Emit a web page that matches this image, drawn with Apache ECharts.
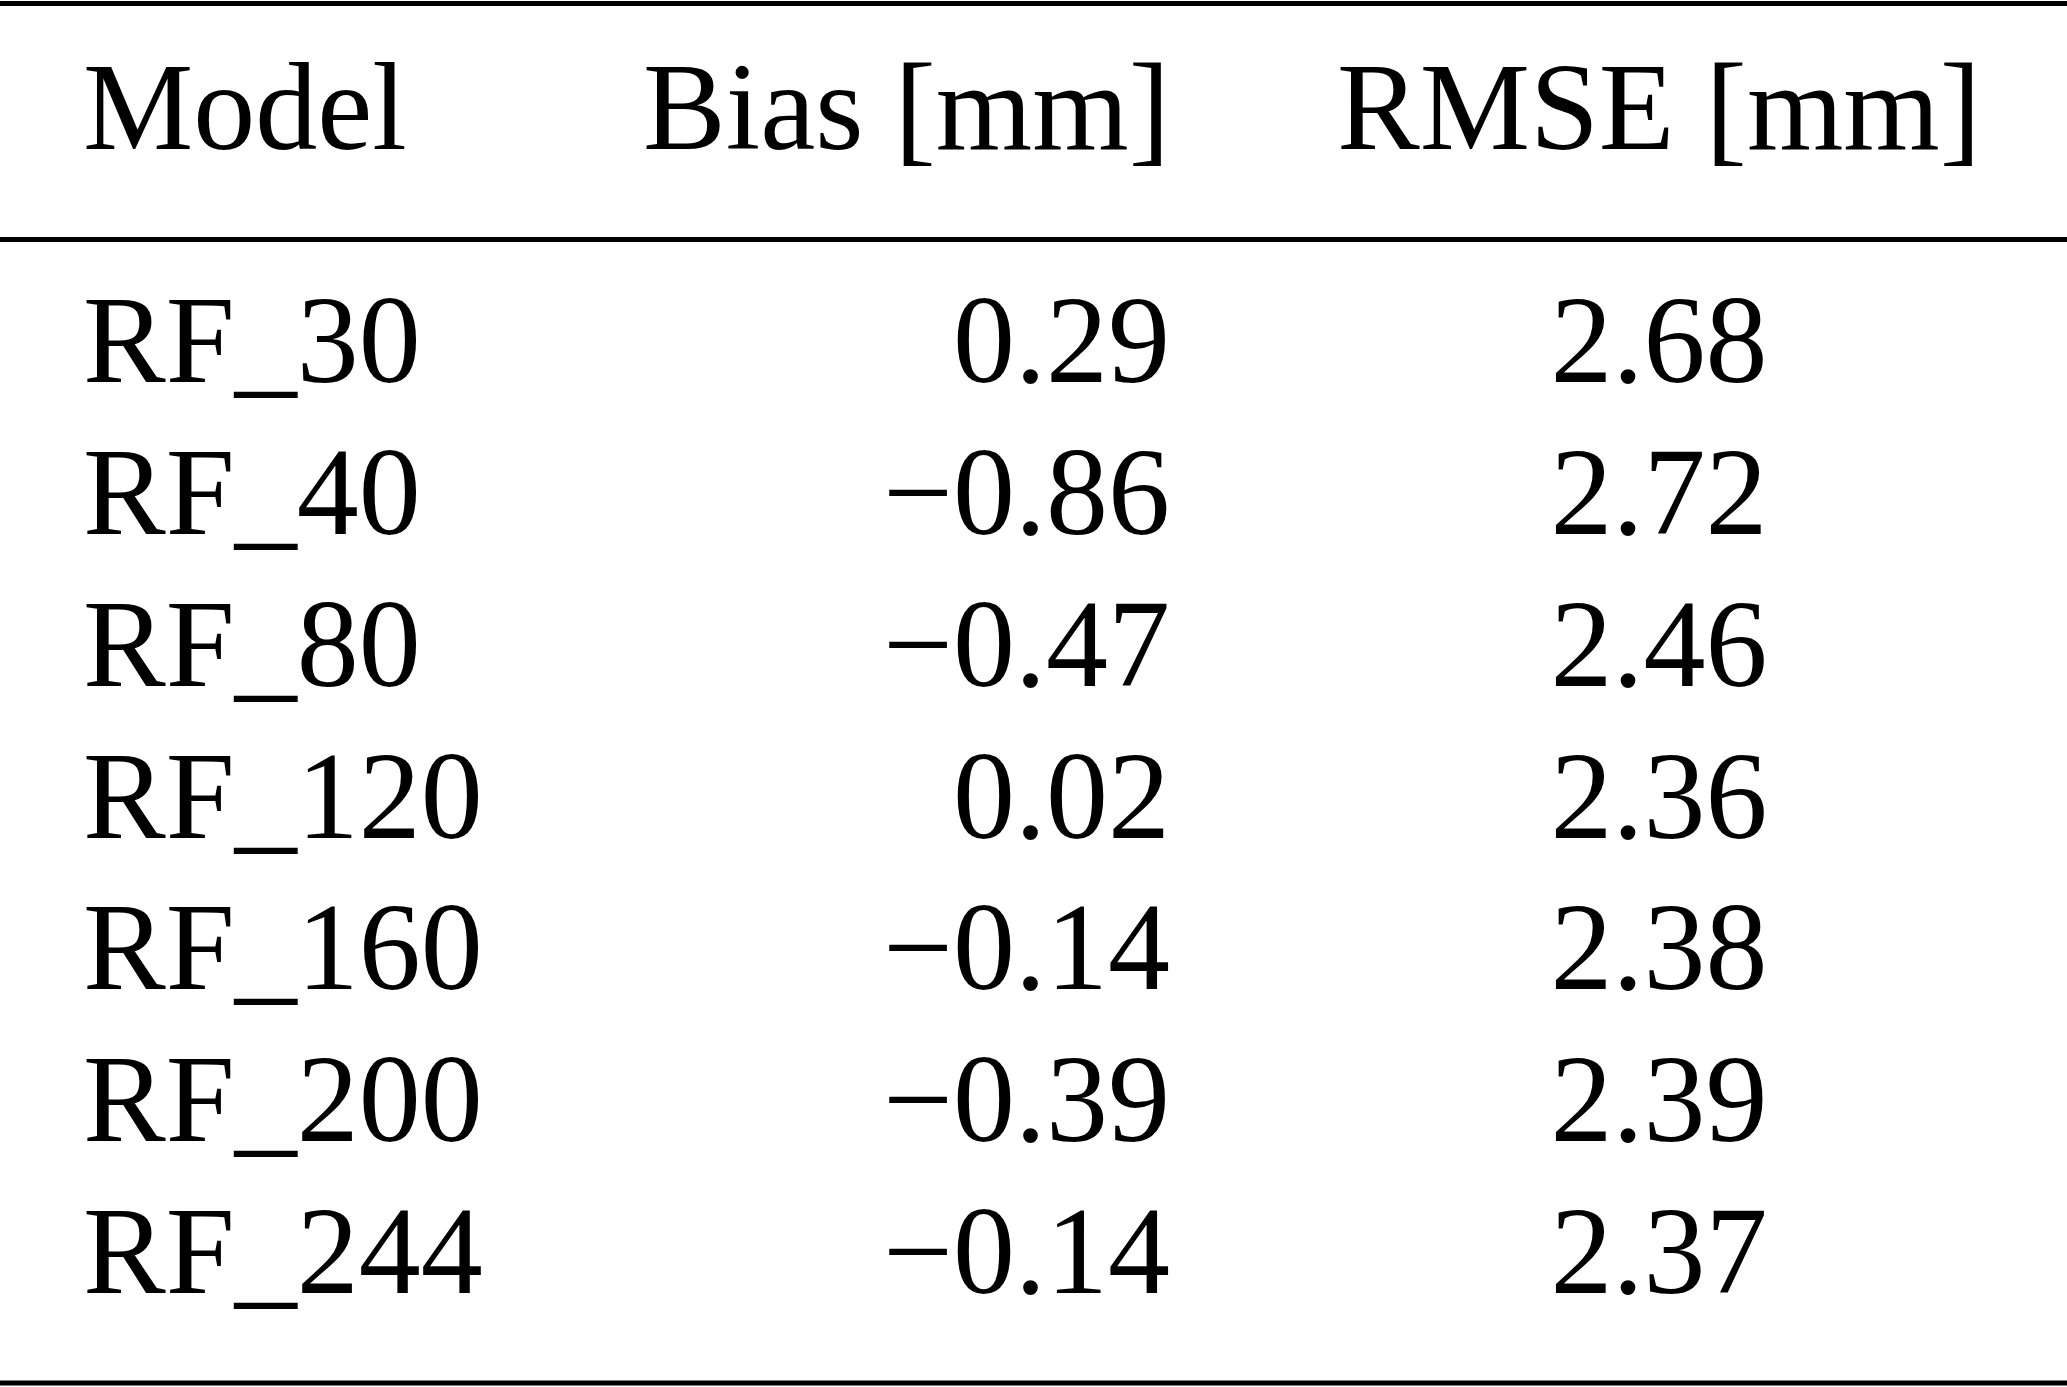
<!DOCTYPE html>
<html>
<head>
<meta charset="utf-8">
<script src="https://cdn.jsdelivr.net/npm/echarts@6/dist/echarts.min.js"></script>
<style>
html,body{margin:0;padding:0;background:#fff}
#main{width:2067px;height:1387px}
</style>
</head>
<body>
<div id="main"></div>
<script>
// table content
var headers = ['Model', 'Bias [mm]', 'RMSE [mm]'];
var models = ['RF_30', 'RF_40', 'RF_80', 'RF_120', 'RF_160', 'RF_200', 'RF_244'];
var bias = [0.29, -0.86, -0.47, 0.02, -0.14, -0.39, -0.14];
var rmse = [2.68, 2.72, 2.46, 2.36, 2.38, 2.39, 2.37];

// column anchors (x in px) and alignment
var colX = [83, 1170, 1659];
var colAlign = ['left', 'right', 'center'];
var FONT = '124px "Liberation Serif", "Times New Roman", serif';

function fmt(v) {
	return v.toFixed(2).replace('-', '\u2212');
}

var headerText = headers.slice();
var headerData = headers.map(function (h, i) { return [colX[i], 0, i]; });

var bodyText = [];
var bodyData = [];
models.forEach(function (m, r) {
	bodyText.push(m);           bodyData.push([colX[0], r, 0]);
	bodyText.push(fmt(bias[r])); bodyData.push([colX[1], r, 1]);
	bodyText.push(fmt(rmse[r])); bodyData.push([colX[2], r, 2]);
});

function makeRender(texts) {
	return function (params, api) {
		var p = api.coord([api.value(0), api.value(1)]);
		var c = api.value(2);
		return {
			type: 'text',
			x: p[0],
			y: p[1],
			style: {
				text: texts[params.dataIndex],
				font: FONT,
				fill: '#000',
				align: colAlign[c],
				verticalAlign: 'middle'
			}
		};
	};
}

var myChart = echarts.init(document.getElementById('main'));
var option = {
	backgroundColor: '#fff',
	animation: false,
	grid: [
		{left: 0, right: 0, top: 4, height: 224},
		{left: 0, right: 0, top: 274, bottom: 51}
	],
	xAxis: [
		{type: 'value', gridIndex: 0, min: 0, max: 2067, show: false},
		{type: 'value', gridIndex: 1, min: 0, max: 2067, show: false}
	],
	yAxis: [
		{type: 'category', gridIndex: 0, data: ['header'], show: false},
		{type: 'category', gridIndex: 1, data: models, inverse: true, show: false}
	],
	series: [
		{type: 'custom', xAxisIndex: 0, yAxisIndex: 0, silent: true,
			renderItem: makeRender(headerText), data: headerData},
		{type: 'custom', xAxisIndex: 1, yAxisIndex: 1, silent: true,
			renderItem: makeRender(bodyText), data: bodyData}
	],
	graphic: [
		{type: 'line', shape: {x1: 0, y1: 3.5, x2: 2067, y2: 3.5}, style: {stroke: '#000', lineWidth: 5}},
		{type: 'line', shape: {x1: 0, y1: 239.5, x2: 2067, y2: 239.5}, style: {stroke: '#000', lineWidth: 5}},
		{type: 'line', shape: {x1: 0, y1: 1383, x2: 2067, y2: 1383}, style: {stroke: '#000', lineWidth: 5}}
	]
};
myChart.setOption(option);
</script>
</body>
</html>
